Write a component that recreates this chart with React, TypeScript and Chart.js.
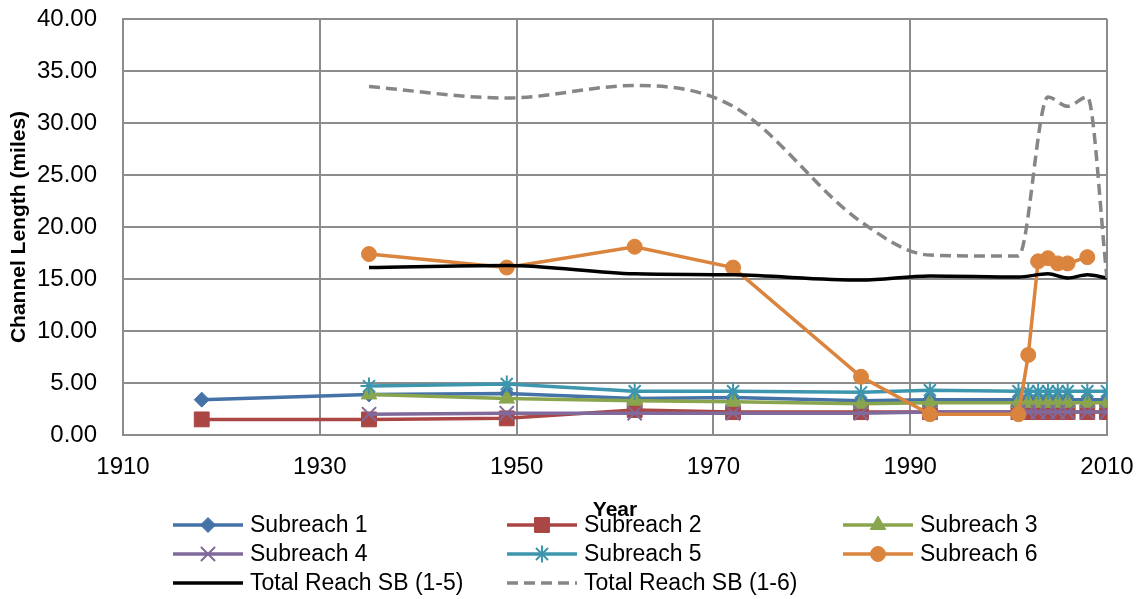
import React, { useEffect, useRef } from 'react';
import { Chart, registerables } from 'chart.js';
import { drawPoint } from 'chart.js/helpers';

Chart.register(...registerables);

// ---- data ----
const subYears = [1918, 1935, 1949, 1962, 1972, 1985, 1992, 2001, 2002, 2003, 2004, 2005, 2006, 2008, 2010];
const subreach1 = [3.4, 3.9, 4.0, 3.5, 3.6, 3.3, 3.4, 3.4, 3.4, 3.4, 3.4, 3.4, 3.4, 3.4, 3.4];
const subreach2 = [1.5, 1.5, 1.6, 2.4, 2.2, 2.2, 2.2, 2.2, 2.2, 2.2, 2.2, 2.2, 2.2, 2.2, 2.2];
const subreach3 = [null, 3.9, 3.5, 3.3, 3.2, 3.0, 3.1, 3.1, 3.1, 3.1, 3.1, 3.1, 3.1, 3.1, 3.1];
const subreach4 = [null, 2.0, 2.1, 2.1, 2.1, 2.1, 2.2, 2.2, 2.2, 2.2, 2.2, 2.2, 2.2, 2.2, 2.2];
const subreach5 = [null, 4.7, 4.9, 4.2, 4.2, 4.1, 4.3, 4.2, 4.2, 4.2, 4.2, 4.2, 4.2, 4.2, 4.2];
const subreach6 = [null, 17.4, 16.1, 18.1, 16.1, 5.6, 2.0, 2.0, 7.7, 16.7, 17.0, 16.5, 16.5, 17.1, null];

const totalYears = [1935, 1949, 1962, 1972, 1985, 1992, 2001, 2004, 2006, 2008, 2010];
const total15 = [16.1, 16.3, 15.5, 15.4, 14.9, 15.3, 15.2, 15.5, 15.1, 15.4, 15.1];
const total16 = [33.5, 32.4, 33.6, 31.6, 20.5, 17.3, 17.2, 32.5, 31.6, 32.5, 15.1];

const seriesNames = [
  'Subreach 1', 'Subreach 2', 'Subreach 3', 'Subreach 4', 'Subreach 5', 'Subreach 6',
  'Total Reach SB (1-5)', 'Total Reach SB (1-6)',
];
const xTicks = [1910, 1930, 1950, 1970, 1990, 2010];

const toPoints = (xs: number[], ys: (number | null)[]) =>
  xs.map((x, i) => ({ x, y: ys[i] })).filter((p) => p.y !== null) as { x: number; y: number }[];

const FONT = "'Liberation Sans', Arial, sans-serif";

const legendPlugin = {
  id: 'gridLegend',
  afterDraw(chart: any) {
    const ctx = chart.ctx as CanvasRenderingContext2D;
    const cols = [173, 507, 843];
    const rows = [525, 554, 583];
    chart.data.datasets.forEach((ds: any, i: number) => {
      const x = cols[i % 3];
      const y = rows[Math.floor(i / 3)];
      ctx.save();
      ctx.strokeStyle = ds.borderColor;
      ctx.lineWidth = ds.borderWidth;
      ctx.lineCap = 'butt';
      ctx.setLineDash(ds.borderDash || []);
      ctx.beginPath();
      ctx.moveTo(x, y);
      ctx.lineTo(x + 70, y);
      ctx.stroke();
      ctx.setLineDash([]);
      if (ds.pointRadius > 0) {
        ctx.fillStyle = ds.pointBackgroundColor;
        ctx.strokeStyle = ds.pointBorderColor;
        ctx.lineWidth = ds.pointBorderWidth;
        drawPoint(ctx, { pointStyle: ds.pointStyle, radius: ds.pointRadius, rotation: 0, borderWidth: ds.pointBorderWidth } as any, x + 35, y);
      }
      ctx.fillStyle = '#000';
      ctx.font = `23px ${FONT}`;
      ctx.textAlign = 'left';
      ctx.textBaseline = 'middle';
      ctx.fillText(ds.label, x + 77, y + 1);
      ctx.restore();
    });
  },
};

export default function App() {
  const ref = useRef<HTMLCanvasElement | null>(null);

  useEffect(() => {
    if (!ref.current) return;
    const colors = ['#4572A7', '#AA4643', '#89A54E', '#80699B', '#3D96AE', '#DB843D', '#000000', '#868686'];
    const styles = ['rectRot', 'rect', 'triangle', 'crossRot', 'star', 'circle', 'circle', 'circle'];
    const radii = [7.5, 10.5, 9, 10, 8.5, 7.5, 0, 0];
    const subs = [subreach1, subreach2, subreach3, subreach4, subreach5, subreach6];
    const datasets: any[] = subs.map((s, i) => ({
      label: seriesNames[i],
      data: toPoints(subYears, s),
      borderColor: colors[i],
      backgroundColor: colors[i],
      borderWidth: 3.5,
      pointStyle: styles[i],
      pointRadius: radii[i],
      pointBackgroundColor: colors[i],
      pointBorderColor: colors[i],
      pointBorderWidth: i === 3 || i === 4 ? 2 : 1,
      tension: 0,
      order: 10 - i,
    }));
    datasets.push({
      label: seriesNames[6],
      data: toPoints(totalYears, total15),
      borderColor: colors[6],
      backgroundColor: colors[6],
      borderWidth: 3.5,
      pointRadius: 0,
      pointBorderWidth: 0,
      cubicInterpolationMode: 'monotone',
      order: 4,
    });
    datasets.push({
      label: seriesNames[7],
      data: toPoints(totalYears, total16),
      borderColor: colors[7],
      backgroundColor: colors[7],
      borderWidth: 3.5,
      borderDash: [11, 6],
      pointRadius: 0,
      pointBorderWidth: 0,
      cubicInterpolationMode: 'monotone',
      order: 3,
    });

    const chart = new Chart(ref.current, {
      type: 'line',
      data: { datasets },
      plugins: [legendPlugin],
      options: {
        responsive: false,
        animation: false,
        layout: { padding: { top: 19, right: 38, bottom: 0, left: 0 } },
        plugins: { legend: { display: false }, tooltip: { enabled: false } },
        scales: {
          x: {
            type: 'linear',
            min: 1910,
            max: 2010,
            afterBuildTicks: (scale: any) => {
              scale.ticks = xTicks.map((v) => ({ value: v }));
            },
            afterFit: (scale: any) => {
              scale.height = 164;
            },
            ticks: {
              font: { family: FONT, size: 24 },
              color: '#000',
              padding: 0,
              maxRotation: 0,
              callback: (v: any) => String(v),
            },
            grid: { color: '#8c8c8c', lineWidth: 2, drawTicks: true, tickLength: 18, tickColor: 'rgba(0,0,0,0)' },
            border: { color: '#8c8c8c', width: 2 },
            title: {
              display: true,
              text: 'Year',
              font: { family: FONT, size: 21, weight: 'bold' },
              color: '#000',
              padding: { top: 0, bottom: 76 },
            },
          },
          y: {
            type: 'linear',
            min: 0,
            max: 40,
            afterFit: (scale: any) => {
              scale.width = 123;
            },
            ticks: {
              stepSize: 5,
              font: { family: FONT, size: 24 },
              color: '#000',
              padding: 0,
              callback: (v: any) => Number(v).toFixed(2),
            },
            grid: { color: '#8c8c8c', lineWidth: 2, drawTicks: true, tickLength: 26, tickColor: 'rgba(0,0,0,0)' },
            border: { color: '#8c8c8c', width: 2 },
            title: {
              display: true,
              text: 'Channel Length (miles)',
              font: { family: FONT, size: 21, weight: 'bold' },
              color: '#000',
              padding: { top: 7, bottom: 0 },
            },
          },
        },
      } as any,
    });
    return () => chart.destroy();
  }, []);

  return (
    <canvas
      ref={ref}
      width={1145}
      height={599}
      style={{ position: 'absolute', left: 0, top: 0, width: 1145, height: 599 }}
    />
  );
}
